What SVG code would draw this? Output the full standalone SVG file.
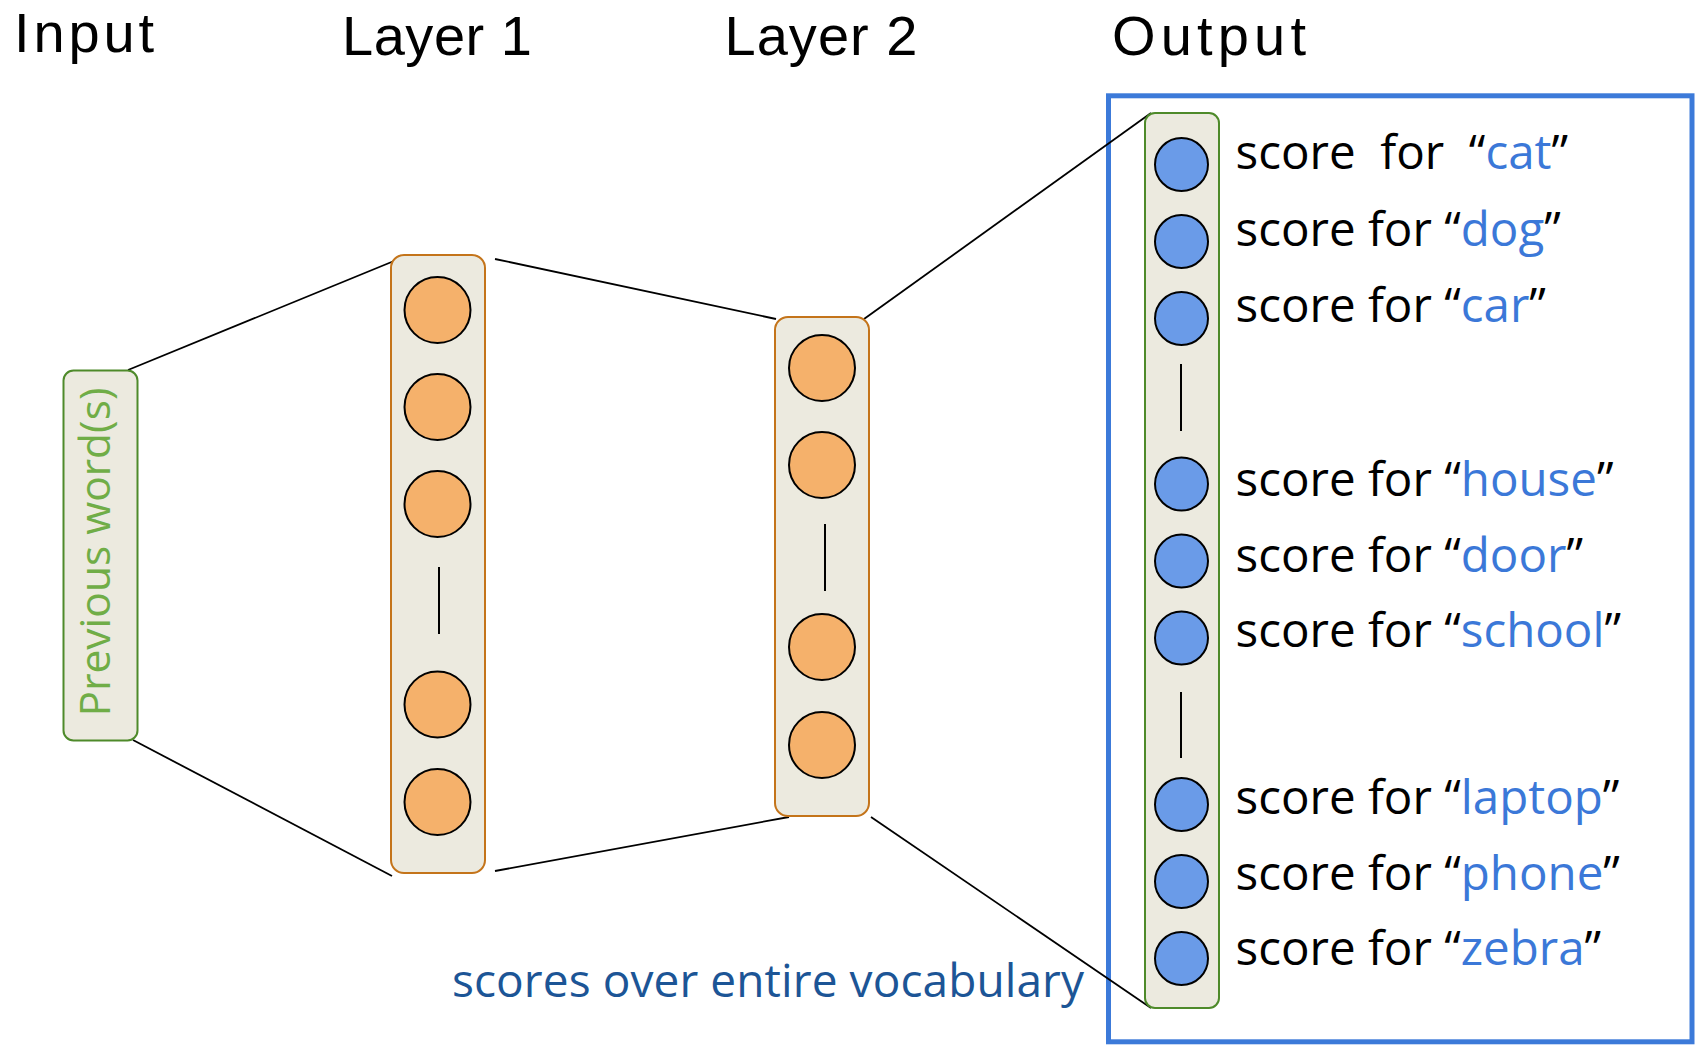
<svg xmlns="http://www.w3.org/2000/svg" width="1697" height="1046" viewBox="0 0 1697 1046">
<style>
.title{font-family:"Liberation Sans",Arial,sans-serif;font-size:56px;fill:#000;text-anchor:middle}
.score{font-family:"Open Sans","Liberation Sans",sans-serif;font-size:47.5px;fill:#000;white-space:pre}
.w{fill:#3b78d8}
.conn{stroke:#000;stroke-width:1.8;fill:none}
.div{stroke:#000;stroke-width:2}
.boxO{fill:#eceadf;stroke:#c4741a;stroke-width:2}
.boxG{fill:#eceadf;stroke:#4e8a2a;stroke-width:2}
.on{fill:#f5b16b;stroke:#000;stroke-width:2}
.bn{fill:#6a9be8;stroke:#000;stroke-width:2}
</style>
<rect width="1697" height="1046" fill="#fff"/>
<g id="titles">
<text class="title" x="84" y="52" textLength="140">Input</text>
<text class="title" x="437" y="55" textLength="190">Layer 1</text>
<text class="title" x="821" y="55" textLength="193">Layer 2</text>
<text class="title" x="1209" y="55" textLength="194">Output</text>
</g>
<g id="output-panel">
<rect x="1108.5" y="95.8" width="583.5" height="946" fill="none" stroke="#3c7ad9" stroke-width="5"/>
</g>
<g id="connectors">
<line class="conn" x1="128" y1="370" x2="394" y2="261"/>
<line class="conn" x1="133" y1="740" x2="392" y2="876"/>
<line class="conn" x1="495" y1="259" x2="776" y2="319"/>
<line class="conn" x1="495" y1="871" x2="789" y2="817"/>
<line class="conn" x1="864" y1="319" x2="1151" y2="113"/>
<line class="conn" x1="871" y1="817" x2="1151" y2="1008"/>
</g>
<g id="input">
<rect class="boxG" x="63.5" y="370.5" width="74" height="370" rx="10"/>
<text x="110" y="552" transform="rotate(-90 110 552)" font-family="Open Sans, Liberation Sans, sans-serif" font-size="42.5" fill="#70ad47" text-anchor="middle">Previous word(s)</text>
</g>
<g id="layer1">
<rect class="boxO" x="391" y="255" width="94" height="618" rx="13"/>
<circle class="on" cx="437.5" cy="310" r="33"/>
<circle class="on" cx="437.5" cy="407" r="33"/>
<circle class="on" cx="437.5" cy="504" r="33"/>
<line class="div" x1="439" y1="567" x2="439" y2="634"/>
<circle class="on" cx="437.5" cy="704.5" r="33"/>
<circle class="on" cx="437.5" cy="802" r="33"/>
</g>
<g id="layer2">
<rect class="boxO" x="775" y="317" width="94" height="499" rx="13"/>
<circle class="on" cx="822" cy="368" r="33"/>
<circle class="on" cx="822" cy="465" r="33"/>
<line class="div" x1="825" y1="524" x2="825" y2="591"/>
<circle class="on" cx="822" cy="647" r="33"/>
<circle class="on" cx="822" cy="745" r="33"/>
</g>
<g id="output">
<rect class="boxG" x="1145" y="113" width="74" height="895" rx="10"/>
<circle class="bn" cx="1181.5" cy="164.5" r="26.5"/>
<circle class="bn" cx="1181.5" cy="241.5" r="26.5"/>
<circle class="bn" cx="1181.5" cy="318.5" r="26.5"/>
<line class="div" x1="1181" y1="364" x2="1181" y2="431"/>
<circle class="bn" cx="1181.5" cy="484" r="26.5"/>
<circle class="bn" cx="1181.5" cy="561" r="26.5"/>
<circle class="bn" cx="1181.5" cy="638" r="26.5"/>
<line class="div" x1="1181" y1="692" x2="1181" y2="758"/>
<circle class="bn" cx="1181.5" cy="804.5" r="26.5"/>
<circle class="bn" cx="1181.5" cy="881.5" r="26.5"/>
<circle class="bn" cx="1181.5" cy="958.5" r="26.5"/>
</g>
<g id="labels">
<text class="score" x="1235.5" y="169">score  for  “<tspan class="w">cat</tspan>”</text>
<text class="score" x="1235.5" y="246">score for “<tspan class="w">dog</tspan>”</text>
<text class="score" x="1235.5" y="322">score for “<tspan class="w">car</tspan>”</text>
<text class="score" x="1235.5" y="496">score for “<tspan class="w">house</tspan>”</text>
<text class="score" x="1235.5" y="572">score for “<tspan class="w">door</tspan>”</text>
<text class="score" x="1235.5" y="647">score for “<tspan class="w">school</tspan>”</text>
<text class="score" x="1235.5" y="814">score for “<tspan class="w">laptop</tspan>”</text>
<text class="score" x="1235.5" y="890">score for “<tspan class="w">phone</tspan>”</text>
<text class="score" x="1235.5" y="965">score for “<tspan class="w">zebra</tspan>”</text>
</g>
<g id="vocab-label">
<text x="452" y="997" font-family="Open Sans, Liberation Sans, sans-serif" font-size="46" fill="#1c5596" textLength="632">scores over entire vocabulary</text>
</g>
</svg>
